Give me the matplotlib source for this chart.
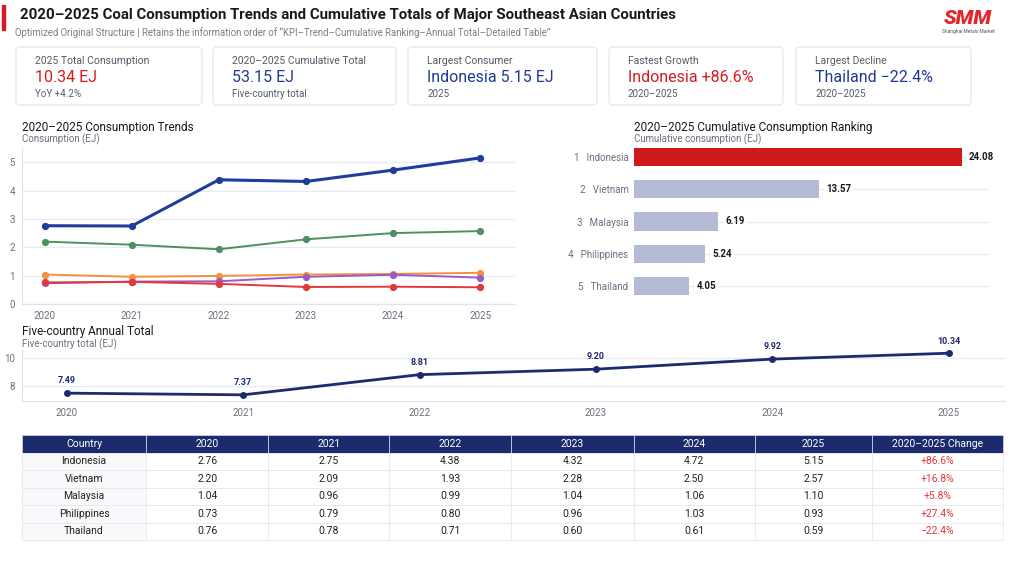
import matplotlib.pyplot as plt
from matplotlib.patches import FancyBboxPatch, Rectangle

W, H = 1024, 580

# ---- data ----
years = [2020, 2021, 2022, 2023, 2024, 2025]
countries = ['Indonesia', 'Vietnam', 'Malaysia', 'Philippines', 'Thailand']
indonesia = [2.76, 2.75, 4.38, 4.32, 4.72, 5.15]
vietnam = [2.20, 2.09, 1.93, 2.28, 2.50, 2.57]
malaysia = [1.04, 0.96, 0.99, 1.04, 1.06, 1.10]
philippines = [0.73, 0.79, 0.80, 0.96, 1.03, 0.93]
thailand = [0.76, 0.78, 0.71, 0.60, 0.61, 0.59]
changes = ['+86.6%', '+16.8%', '+5.8%', '+27.4%', '\u221222.4%']

rank_names = ['Indonesia', 'Vietnam', 'Malaysia', 'Philippines', 'Thailand']
rank_values = [24.08, 13.57, 6.19, 5.24, 4.05]

annual_total = [7.49, 7.37, 8.81, 9.20, 9.92, 10.34]

kpi_labels = ['2025 Total Consumption', '2020\u20132025 Cumulative Total', 'Largest Consumer',
              'Fastest Growth', 'Largest Decline']
kpi_values = ['10.34 EJ', '53.15 EJ', 'Indonesia 5.15 EJ', 'Indonesia +86.6%', 'Thailand \u221222.4%']
kpi_subs = ['YoY +4.2%', 'Five-country total', '2025', '2020\u20132025', '2020\u20132025']

NAVY = '#1c2b6e'
BLUE = '#1f3a96'
RED = '#d71a20'
GRAY = '#6b7080'
GRID = '#e9ebf3'
line_colors = ['#213d9b', '#4f8f62', '#f4913f', '#9a5bc8', '#e0383c']

plt.rcParams['font.family'] = ['Roboto', 'DejaVu Sans']


def rect(x0, y0, x1, y1):
    return [x0 / W, 1 - y1 / H, (x1 - x0) / W, (y1 - y0) / H]


def ftext(x, y, s, **kw):
    fig.text(x / W, 1 - y / H, s, **kw)


fig = plt.figure(figsize=(W / 100, H / 100), dpi=100)
fig.patch.set_facecolor('white')

# ---- header ----
fig.patches.append(Rectangle((2 / W, 1 - 30 / H), 3 / W, 25 / H, transform=fig.transFigure,
                             color=RED, zorder=2))
ftext(20, 15, '2020\u20132025 Coal Consumption Trends and Cumulative Totals of Major Southeast Asian Countries',
      fontsize=10.8, fontweight='bold', color='#1a1a1a', va='center')
ftext(15, 33, 'Optimized Original Structure | Retains the information order of \u201cKPI\u2013Trend\u2013Cumulative '
      'Ranking\u2013Annual Total\u2013Detailed Table\u201d', fontsize=6.9, color='#7a7f8c', va='center')
ftext(968, 18, 'SMM', fontsize=15, fontweight='black', style='italic', color='#e3262b',
      ha='center', va='center')
ftext(968, 31, 'Shanghai Metals Market', fontsize=3.5, color='#555555', ha='center', va='center')

# ---- KPI cards ----
card_x = [(16, 202), (213, 396), (408, 597), (609, 783), (796, 971)]
kpi_colors = [RED, BLUE, BLUE, RED, BLUE]
for (x0, x1), lab, val, sub, c in zip(card_x, kpi_labels, kpi_values, kpi_subs, kpi_colors):
    fig.patches.append(FancyBboxPatch((x0 / W, 1 - 105 / H), (x1 - x0) / W, 58 / H,
                                      boxstyle='round,pad=0,rounding_size=0.006',
                                      transform=fig.transFigure, facecolor='white',
                                      edgecolor='#e2e4ea', linewidth=0.8))
    ftext(x0 + 19, 61, lab, fontsize=7.5, color='#555a66', va='center')
    ftext(x0 + 19, 78, val, fontsize=11.5, color=c, va='center')
    ftext(x0 + 19, 94, sub, fontsize=7, color='#555a66', va='center')

# ---- trend chart ----
ax1 = fig.add_axes(rect(22, 148, 515, 304))
series = [indonesia, vietnam, malaysia, philippines, thailand]
for vals, col, name in zip(series, line_colors, countries):
    lw = 2.2 if name == 'Indonesia' else 1.4
    ax1.plot(years, vals, color=col, lw=lw, marker='o', ms=4.2, label=name, zorder=3)
ax1.set_xlim(2019.74, 2025.4)
ax1.set_ylim(0, 5.5)
ax1.set_yticks([0, 1, 2, 3, 4, 5])
ax1.set_xticks(years)
ax1.grid(axis='y', color=GRID, lw=1)
ax1.set_axisbelow(True)
for s in ['top', 'right']:
    ax1.spines[s].set_visible(False)
ax1.spines['left'].set_color('#dfe2ea')
ax1.spines['bottom'].set_color('#dfe2ea')
ax1.tick_params(length=0, labelsize=7, colors=GRAY, pad=5)
ftext(22, 127, '2020\u20132025 Consumption Trends', fontsize=8.5, color='#1a1a1a', va='center')
ftext(22, 139, 'Consumption (EJ)', fontsize=7, color=GRAY, va='center')

# ---- ranking chart ----
ax2 = fig.add_axes(rect(634, 141, 989, 302))
ypos = list(range(len(rank_names)))
bar_colors = ['#d0191d'] + ['#b5bbd4'] * (len(rank_names) - 1)
ax2.barh(ypos, rank_values, height=0.56, color=bar_colors, zorder=2)
ax2.set_ylim(len(rank_names) - 0.5, -0.5)
ax2.set_xlim(0, 26.1)
ax2.set_yticks(ypos)
ax2.set_yticklabels([f'{i + 1}   {n}' for i, n in enumerate(rank_names)])
ax2.set_xticks([])
ax2.grid(axis='y', color=GRID, lw=1)
ax2.set_axisbelow(True)
for s in ax2.spines.values():
    s.set_visible(False)
ax2.tick_params(length=0, labelsize=7, colors=GRAY, pad=4)
for y, v in zip(ypos, rank_values):
    ax2.text(v + 0.55, y, f'{v:.2f}', fontsize=7, fontweight='bold', color='#1a1a1a', va='center',
             bbox=dict(facecolor='white', edgecolor='none', pad=1.5), zorder=3)
ftext(634, 127, '2020\u20132025 Cumulative Consumption Ranking', fontsize=8.5, color='#1a1a1a', va='center')
ftext(634, 139, 'Cumulative consumption (EJ)', fontsize=7, color=GRAY, va='center')

# ---- annual total ----
ax3 = fig.add_axes(rect(22, 350, 1005, 401))
ax3.plot(years, annual_total, color=NAVY, lw=2, marker='o', ms=4, zorder=3)
for x, v in zip(years, annual_total):
    ax3.annotate(f'{v:.2f}', (x, v), xytext=(0, 7), textcoords='offset points', ha='center',
                 fontsize=6.5, fontweight='bold', color=NAVY)
ax3.set_xlim(2019.745, 2025.32)
ax3.set_ylim(6.93, 10.57)
ax3.set_yticks([8, 10])
ax3.set_xticks(years)
ax3.grid(axis='y', color=GRID, lw=1)
ax3.set_axisbelow(True)
for s in ['top', 'right']:
    ax3.spines[s].set_visible(False)
ax3.spines['left'].set_color('#dfe2ea')
ax3.spines['bottom'].set_color('#dfe2ea')
ax3.tick_params(length=0, labelsize=7, colors=GRAY, pad=5)
ftext(22, 331, 'Five-country Annual Total', fontsize=8.5, color='#1a1a1a', va='center')
ftext(22, 344, 'Five-country total (EJ)', fontsize=7, color=GRAY, va='center')

# ---- table ----
ax4 = fig.add_axes(rect(22, 435, 1003, 540))
ax4.axis('off')
header = ['Country'] + [str(y) for y in years] + ['2020\u20132025 Change']
cells = []
for name, vals, ch in zip(countries, series, changes):
    cells.append([name] + [f'{v:.2f}' for v in vals] + [ch])
col_w = [124, 122, 121, 122, 122, 121, 117, 131]
tot = sum(col_w)
tbl = ax4.table(cellText=cells, colLabels=header, colWidths=[w / tot for w in col_w],
                cellLoc='center', bbox=[0, 0, 1, 1])
tbl.auto_set_font_size(False)
for (r, c), cell in tbl.get_celld().items():
    cell.set_linewidth(0.6)
    cell.get_text().set_fontsize(7.5)
    if r == 0:
        cell.set_facecolor(NAVY)
        cell.set_edgecolor('#c9cde0')
        cell.get_text().set_color('white')
    else:
        cell.set_facecolor('#f8f9fb' if c == 0 else 'white')
        cell.set_edgecolor('#e6e8ef')
        cell.get_text().set_color('#e0383c' if c == len(header) - 1 else '#222222')

fig.savefig('out.png', dpi=100, facecolor='white')
